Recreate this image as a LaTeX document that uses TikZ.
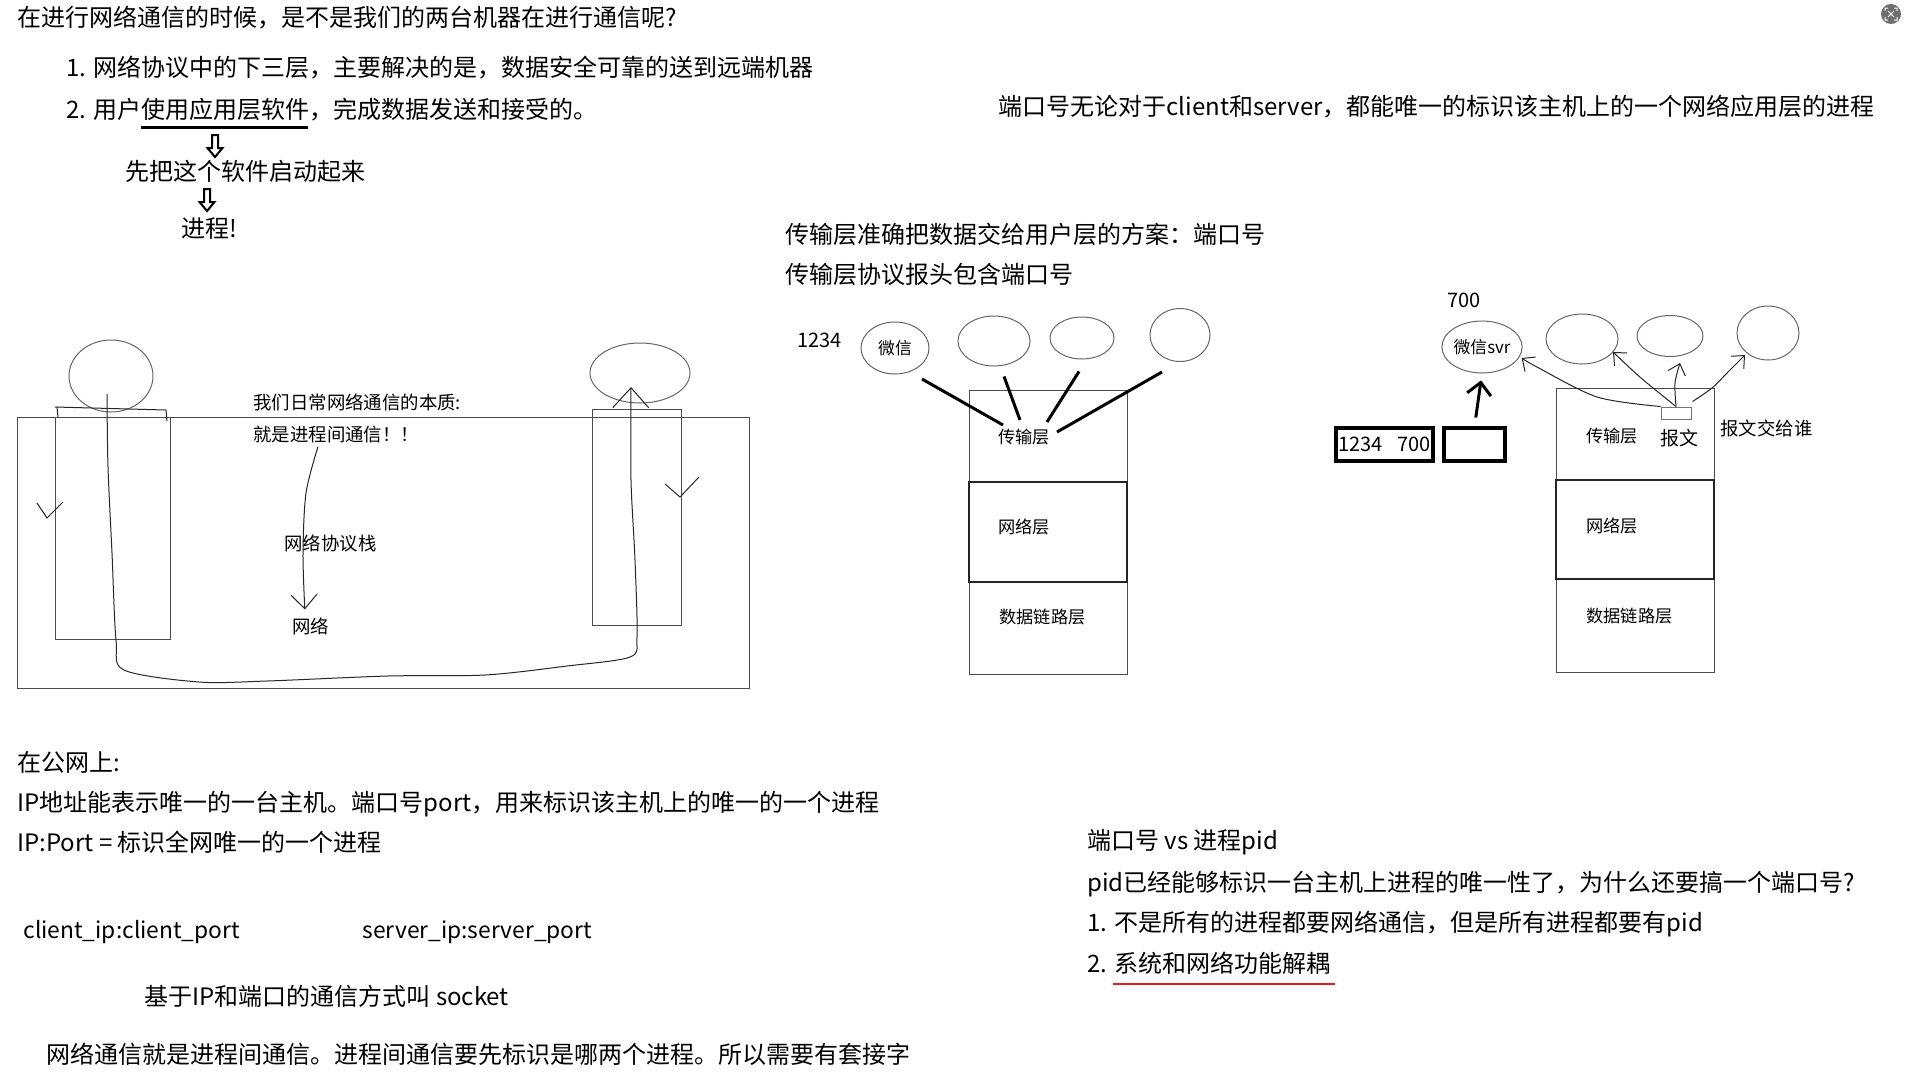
\documentclass[tikz,border=0pt]{standalone}
\usepackage{fontspec}
\setmainfont{Noto Sans CJK SC}
\usetikzlibrary{arrows.meta,shapes.geometric,positioning}
\definecolor{redline}{RGB}{232,28,36}
\tikzset{
  downarrow/.pic={\draw[line width=1pt,line join=miter] (-3,0) -- (3,0) -- (3,13) -- (7.5,13) -- (0,22) -- (-7.5,13) -- (-3,13) -- cycle;}
}

\begin{document}
\begin{tikzpicture}[x=0.5pt,y=-0.5pt,
  note/.style={anchor=west,inner sep=0pt,text height=10pt,text depth=2pt,font=\fontsize{12}{14}\selectfont},
  side/.style={anchor=west,inner sep=0pt,text height=7.6pt,text depth=1.6pt,font=\fontsize{9.2}{11}\selectfont},
  tag/.style={anchor=west,inner sep=0pt,text height=7pt,text depth=1.4pt,font=\fontsize{8.6}{10}\selectfont},
  num/.style={anchor=west,inner sep=0pt,font=\fontsize{10}{12}\selectfont},
  proc/.style={ellipse,draw=black!60,line width=0.5pt,inner sep=0pt,font=\fontsize{8.4}{10}\selectfont},
  layer/.style={rectangle,draw=black!70,line width=0.5pt,minimum width=79pt,inner sep=0pt},
  frame/.style={rectangle,draw=black!70,line width=0.5pt,inner sep=0pt},
  hdr/.style={rectangle,draw,line width=1.6pt,minimum height=16.5pt,inner sep=0pt,font=\fontsize{10}{12}\selectfont},
  hand/.style={draw=black!85,line width=0.5pt},
  heavy/.style={line width=1.5pt},
]
\useasboundingbox (0,0) rectangle (1916,1082);

% top notes
\node[note] (title) at (17,18) {在进行网络通信的时候，是不是我们的两台机器在进行通信呢?};
\node[note] (item1) at (66,68) {1. 网络协议中的下三层，主要解决的是，数据安全可靠的送到远端机器};
\node[note] (item2) at (66,110) {2. 用户使用应用层软件，完成数据发送和接受的。};
\draw[line width=1.5pt] ([shift={(75,17)}]item2.west) -- ++(167,0);
\pic at (215,135) {downarrow};
\node[note] (launch) at (125,172) {先把这个软件启动起来};
\pic at (207,189) {downarrow};
\node[note] (process) at (181,229) {进程!};
\node[note] (portnote) at (998,107) {端口号无论对于client和server，都能唯一的标识该主机上的一个网络应用层的进程};
\node[note] (scheme) at (785,235) {传输层准确把数据交给用户层的方案：端口号};
\node[note] (header) at (785,275) {传输层协议报头包含端口号};

% viewer icon
\node[circle,fill=black!57,minimum size=10pt,inner sep=0pt] (viewicon) at (1891,14) {};
\draw[white,line width=0.5pt] (1885,11) -- (1885,8) -- (1888,8) (1894,8) -- (1897,8) -- (1897,11)
  (1897,17) -- (1897,20) -- (1894,20) (1888,20) -- (1885,20) -- (1885,17)
  (1888,11) -- (1894,17) (1894,11) -- (1888,17);

% two hosts
\node[frame,minimum width=366pt,minimum height=135.5pt] (hostbox) at (383,552.5) {};
\node[frame,minimum width=57.5pt,minimum height=111pt] (clientapp) at (112.5,528) {};
\node[frame,minimum width=44.5pt,minimum height=108pt] (serverapp) at (636.5,517) {};
\node[proc,minimum width=42pt,minimum height=36pt] (lhead) at (111,376) {};
\node[proc,minimum width=50pt,minimum height=30pt] (rhead) at (640,373) {};
\draw[hand] (55,407) -- (166,410) -- (167,421);
\draw[hand] (57,407) -- (58,417);
\draw[hand] (37,503) -- (47,518) -- (63,502);
\draw[hand] (665,484) -- (680,497) -- (699,477);
\node[side] (essence) at (253,403) {我们日常网络通信的本质:};
\node[side] (essence2) at (253,435) {就是进程间通信！！};
\node[side] (stack) at (284,544) {网络协议栈};
\node[side] (network) at (292,627) {网络};
\draw[hand,-{Straight Barb[length=10pt,width=18pt]}] plot[smooth] coordinates {([shift={(-4,18)}]lhead.center)
  (108,467) (112,553) (116,640) (124,670) (199,682) (267,681) (388,676) (485,675) (567,666) (630,657)
  (637,637) (635,560) (631,480) ([shift={(-9,14)}]rhead.center)};
\draw[hand,-{Straight Barb[length=7pt,width=13pt]}] plot[smooth] coordinates {([shift={(65,2)}]essence2.south west)
  (306,493) (303,553) ([shift={(-6,-8)}]network.north)};

% transport layer, client side
\node[num] (port1234) at (797,340) {1234};
\node[proc,minimum width=34pt,minimum height=26pt] (wechat) at (895,348) {微信};
\node[proc,minimum width=36pt,minimum height=25pt] (appb) at (994,341) {};
\node[proc,minimum width=32pt,minimum height=21pt] (appc) at (1082,338) {};
\node[proc,minimum width=30pt,minimum height=26.5pt] (appd) at (1180,335) {};
\node[layer,minimum height=46pt] (trans1) at (1048,436) {};
\node[layer,minimum height=46pt] (link1) at (1048,628) {};
\node[layer,minimum height=50pt,line width=1pt,draw=black!85] (net1) at (1048,532) {};
\node[tag] (trans1text) at (998,438) {传输层};
\node[tag] (net1text) at (998,528) {网络层};
\node[tag] (link1text) at (999,618) {数据链路层};
\draw[heavy] ([shift={(27,31)}]wechat.center) -- ([shift={(5,-13)}]trans1text.west);
\draw[heavy] ([shift={(10,10)}]appb.south) -- ([shift={(22,-18)}]trans1text.west);
\draw[heavy] ([shift={(-3,12)}]appc.south) -- ([shift={(49,-16)}]trans1text.west);
\draw[heavy] ([shift={(-18,37)}]appd.center) -- ([shift={(59,-6)}]trans1text.west);

% transport layer, server side
\node[num] (port700) at (1447,300) {700};
\node[proc,minimum width=35pt,minimum height=26pt] (wechatsvr) at (1482,347) {微信svr};
\node[proc,minimum width=36pt,minimum height=25pt] (srvb) at (1582,339) {};
\node[proc,minimum width=33pt,minimum height=20.5pt] (srvc) at (1670,336) {};
\node[proc,minimum width=31pt,minimum height=27pt] (srvd) at (1768,333) {};
\node[layer,minimum height=46pt] (trans2) at (1635,434) {};
\node[layer,minimum height=46.5pt] (link2) at (1635,625.5) {};
\node[layer,minimum height=49.5pt,line width=1pt,draw=black!85] (net2) at (1635,529.5) {};
\node[tag] (trans2text) at (1586,437) {传输层};
\node[tag] (net2text) at (1586,527) {网络层};
\node[tag] (link2text) at (1586,617) {数据链路层};
\node[rectangle,draw=black!55,line width=0.5pt,minimum width=15pt,minimum height=6pt,inner sep=0pt] (packet) at (1676,413) {};
\node[tag,font=\fontsize{9.5}{11}\selectfont] (packettext) at (1660,440) {报文};
\node[side] (whom) at (1720,429) {报文交给谁};
\node[hdr,minimum width=48.5pt] (porthdr) at (1384.5,444.5) {1234\hspace{7pt}700};
\node[hdr,minimum width=30.5pt] (emptyhdr) at (1474.5,444.5) {};
\draw[heavy,-{Straight Barb[length=6pt,width=12pt]},shorten <=4.5pt,shorten >=3.5pt] (emptyhdr.north) -- (wechatsvr.south);
\draw[hand,-{Straight Barb[length=5pt,width=9pt]}] plot[smooth] coordinates {(packet.north west) (1597,397) (1537,367) ([shift={(-1,11)}]wechatsvr.east)};
\draw[hand,-{Straight Barb[length=5pt,width=9pt]}] plot[smooth] coordinates {(packet.north) (1641,378) ([shift={(31,13)}]srvb.center)};
\draw[hand,-{Straight Barb[length=5pt,width=9pt]}] plot[smooth] coordinates {(packet.north) (1675,383) ([shift={(10,6)}]srvc.south)};
\draw[hand,-{Straight Barb[length=5pt,width=9pt]}] plot[smooth] coordinates {([shift={(1,-5)}]packet.north east) (1712,388) (1728,372) ([shift={(-23,22)}]srvd.center)};

% bottom notes
\node[note] (public) at (17,763) {在公网上:};
\node[note] (ipline) at (17,803) {IP地址能表示唯一的一台主机。端口号port，用来标识该主机上的唯一的一个进程};
\node[note] (ipport) at (17,843) {IP:Port = 标识全网唯一的一个进程};
\node[note,font=\fontsize{11.4}{14}\selectfont] (client) at (23,930) {client\_ip:client\_port};
\node[note,font=\fontsize{11.4}{14}\selectfont] (server) at (362,930) {server\_ip:server\_port};
\node[note] (socket) at (144,997) {基于IP和端口的通信方式叫 socket};
\node[note] (summary) at (46,1055) {网络通信就是进程间通信。进程间通信要先标识是哪两个进程。所以需要有套接字};
\node[note] (vs) at (1087,841) {端口号 vs 进程pid};
\node[note] (why) at (1087,883) {pid已经能够标识一台主机上进程的唯一性了，为什么还要搞一个端口号?};
\node[note] (reason1) at (1087,923) {1. 不是所有的进程都要网络通信，但是所有进程都要有pid};
\node[note] (reason2) at (1087,964) {2. 系统和网络功能解耦};
\draw[line width=1.4pt,redline] ([shift={(26,20)}]reason2.west) -- ++(222,0);
\end{tikzpicture}
\end{document}
